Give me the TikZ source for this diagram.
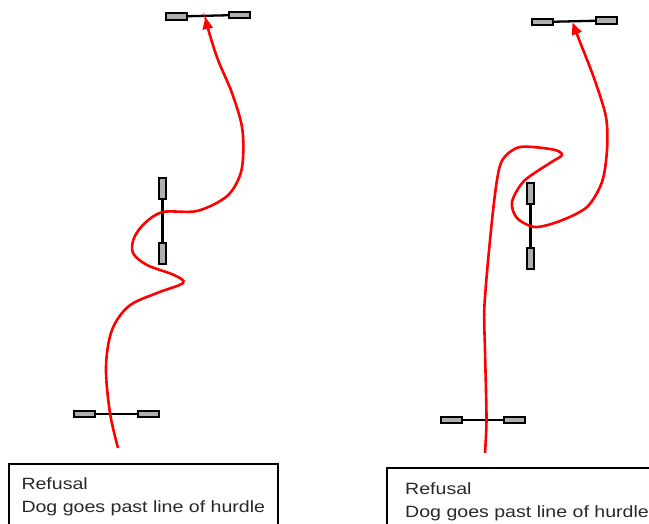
\documentclass[tikz,border=0pt]{standalone}
\usepackage{fontspec}
\newfontfamily\boxfont[FakeStretch=1.2]{Liberation Sans}
\usetikzlibrary{arrows.meta}
\definecolor{bargray}{RGB}{175,175,175}
\definecolor{pathred}{RGB}{255,0,0}
\definecolor{textdark}{RGB}{40,40,40}
\tikzset{
  hbar/.style={draw=black, line width=2pt, fill=bargray, minimum width=21pt, minimum height=6.5pt, inner sep=0pt, outer sep=0pt},
  vbar/.style={draw=black, line width=2pt, fill=bargray, minimum width=6.5pt, minimum height=21pt, inner sep=0pt, outer sep=0pt},
  pole/.style={draw=black, line width=2.3pt},
  dogpath/.style={draw=pathred, line width=2.6pt, -{Triangle[length=12pt,width=10pt]}},
  caption/.style={draw=black, line width=2pt, anchor=north west, align=left, inner ysep=0pt, outer sep=0pt,
    text=textdark, font=\boxfont\fontsize{16.3}{22.8}\selectfont}
}
\begin{document}
\begin{tikzpicture}[x=1pt,y=-1pt]
\useasboundingbox (0,0) rectangle (649,524);
% ---------- left diagram ----------
\node[hbar] (tl1) at (176,16.5) {};
\node[hbar] (tl2) at (239,15) {};
\draw[pole] (tl1) -- (tl2);
\coordinate (tltip) at (205.5,17);
\node[vbar] (ml1) at (162.5,189) {};
\node[vbar] (ml2) at (162.5,253.5) {};
\draw[pole] (ml1) -- (ml2);
\node[hbar] (bl1) at (84,414) {};
\node[hbar] (bl2) at (148.5,414) {};
\draw[pole] (bl1) -- (bl2);
\draw[dogpath] plot[smooth, tension=0.55] coordinates {
 (118,448) (110,413) (106,367) (112,330) (129,306) (157,293) (183,283) (174,275) (147,265)
 (133,253) (134,238) (145,223) (163,212) (197,211) (226,197) (239,178) (243,158) (242,127)
 (232,93) (218,60) (209,32) (tltip)};
\node[caption, minimum width=268pt, minimum height=65pt, inner xsep=12.5pt] (capl) at (9,464)
  {Refusal\\Dog goes past line of hurdle};
% ---------- right diagram ----------
\node[hbar] (tr1) at (542.5,22) {};
\node[hbar] (tr2) at (606.5,20.5) {};
\draw[pole] (tr1) -- (tr2);
\coordinate (trtip) at (572.5,22.5);
\node[vbar] (mr1) at (530.5,194) {};
\node[vbar] (mr2) at (530.5,258.5) {};
\draw[pole] (mr1) -- (mr2);
\node[hbar] (br1) at (451.5,420) {};
\node[hbar] (br2) at (514.5,420) {};
\draw[pole] (br1) -- (br2);
\draw[dogpath] plot[smooth, tension=0.5] coordinates {
 (485,453) (486.5,418) (485,350) (484.5,305) (491,230) (497,180) (503,159) (520,147) (553,149.5)
 (562,155) (550,163) (524,181) (512,202) (517,218) (535,227) (560,221) (587,207) (602,182)
 (607,150) (606,117) (594,78) (580,42) (trtip)};
\node[caption, minimum width=280pt, minimum height=67pt, inner xsep=15pt] (capr) at (387,468)
  {Refusal\\Dog goes past line of hurdle};
\end{tikzpicture}
\end{document}
